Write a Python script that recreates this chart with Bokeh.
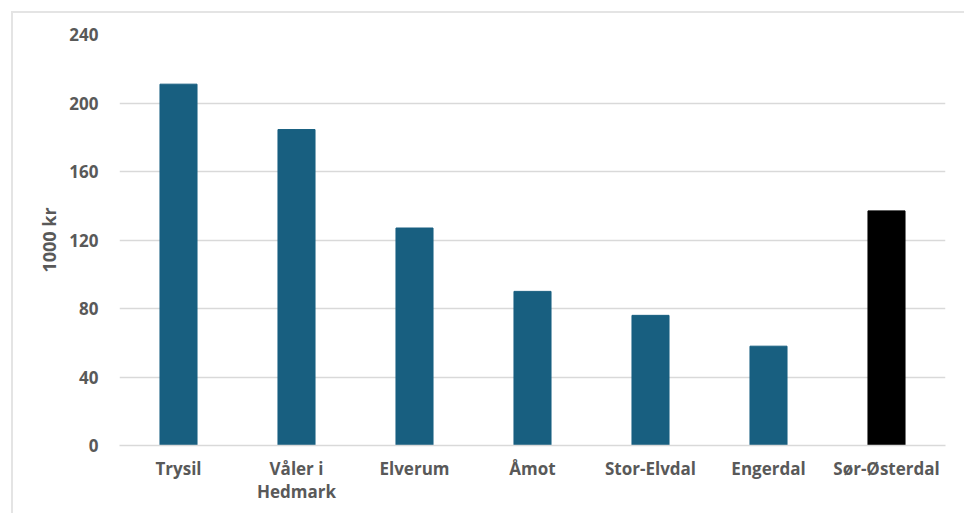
from bokeh.plotting import figure
from bokeh.embed import file_html
from bokeh.resources import INLINE
from bokeh.models import ColumnDataSource, FixedTicker, Range1d

categories = ["Trysil", "Våler i\nHedmark", "Elverum", "Åmot", "Stor-Elvdal", "Engerdal", "Sør-Østerdal"]
values = [211, 184.5, 127, 90, 76, 58, 137]
colors = ["#185f80", "#185f80", "#185f80", "#185f80", "#185f80", "#185f80", "#000000"]
y_ticks = [0, 40, 80, 120, 160, 200, 240]

src = ColumnDataSource(dict(cat=categories, val=values, col=colors))

p = figure(x_range=categories, y_range=Range1d(0, 240), width=953, height=502,
           output_backend="svg", toolbar_location=None,
           min_border_left=106, min_border_right=21, min_border_top=21, min_border_bottom=70)
p.margin = (11, 0, 0, 11)
p.styles = {"border-top": "2px solid #e4e4e4", "border-left": "2px solid #e4e4e4", "box-sizing": "border-box"}

p.vbar(x="cat", top="val", width=0.314, color="col", source=src)

p.outline_line_color = None
p.xgrid.grid_line_color = None
p.ygrid.grid_line_color = "#d9d9d9"
p.ygrid.grid_line_width = 1.5
p.yaxis.ticker = FixedTicker(ticks=y_ticks)
p.yaxis.axis_line_color = None
p.yaxis.major_tick_line_color = None
p.yaxis.minor_tick_line_color = None
p.yaxis.major_label_standoff = 15
p.yaxis.axis_label = "1000 kr"
p.yaxis.axis_label_standoff = 5
p.xaxis.axis_line_color = "#d9d9d9"
p.xaxis.axis_line_width = 1.5
p.xaxis.major_tick_line_color = None
p.xaxis.minor_tick_line_color = None
p.xaxis.major_label_standoff = 5

for ax in (p.xaxis, p.yaxis):
    ax.major_label_text_font = "Open Sans"
    ax.major_label_text_font_style = "bold"
    ax.major_label_text_font_size = "17px"
    ax.major_label_text_line_height = 1.0
    ax.major_label_text_color = "#595959"
    ax.axis_label_text_font = "Open Sans"
    ax.axis_label_text_font_style = "bold"
    ax.axis_label_text_font_size = "18px"
    ax.axis_label_text_color = "#595959"

open("out.html", "w").write(file_html(p, INLINE))
